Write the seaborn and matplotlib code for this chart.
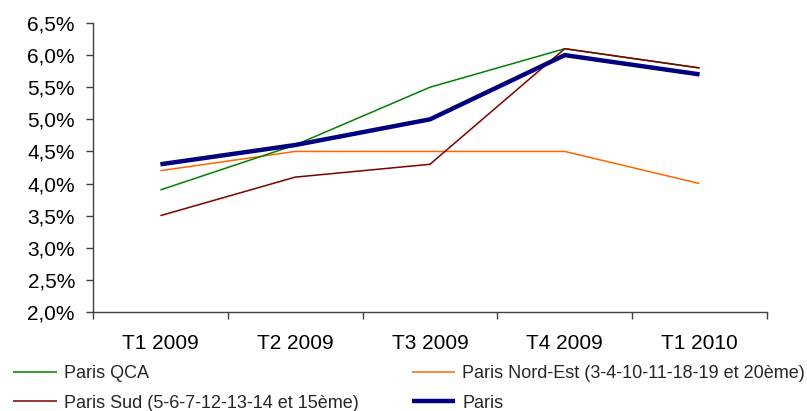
import pandas as pd
import seaborn as sns
import matplotlib.pyplot as plt
from matplotlib.ticker import FuncFormatter, FixedLocator

quarters = ['T1 2009', 'T2 2009', 'T3 2009', 'T4 2009', 'T1 2010']
qca = [3.9, 4.6, 5.5, 6.1, 5.8]
nord_est = [4.2, 4.5, 4.5, 4.5, 4.0]
sud = [3.5, 4.1, 4.3, 6.1, 5.8]
paris = [4.3, 4.6, 5.0, 6.0, 5.7]

series = {
    'Paris QCA': qca,
    'Paris Sud (5-6-7-12-13-14 et 15ème)': sud,
    'Paris Nord-Est (3-4-10-11-18-19 et 20ème)': nord_est,
    'Paris': paris,
}
colors = {
    'Paris QCA': '#008000',
    'Paris Sud (5-6-7-12-13-14 et 15ème)': '#800000',
    'Paris Nord-Est (3-4-10-11-18-19 et 20ème)': '#FF6600',
    'Paris': '#000080',
}
widths = {
    'Paris QCA': 1.1,
    'Paris Sud (5-6-7-12-13-14 et 15ème)': 1.1,
    'Paris Nord-Est (3-4-10-11-18-19 et 20ème)': 1.1,
    'Paris': 3.2,
}
# draw order: orange, green, red, navy on top
draw_order = ['Paris Nord-Est (3-4-10-11-18-19 et 20ème)', 'Paris QCA',
              'Paris Sud (5-6-7-12-13-14 et 15ème)', 'Paris']

sns.set_theme(style='white')
plt.rcParams['font.family'] = ['Liberation Sans', 'DejaVu Sans']

fig = plt.figure(figsize=(8.07, 4.11), dpi=100)
ax = fig.add_axes([0.1152, 0.2409, 0.9504 - 0.1152, 0.944 - 0.2409])

handles = {}
for name in draw_order:
    df = pd.DataFrame({'quarter': quarters, 'rate': series[name]})
    sns.lineplot(data=df, x='quarter', y='rate', ax=ax, color=colors[name],
                 linewidth=widths[name], sort=False, label=name,
                 solid_capstyle='butt')
    handles[name] = ax.lines[-1]
ax.get_legend().remove()

ax.set_xlim(-0.5, 4.5)
ax.set_ylim(2.0, 6.5)
ax.set_yticks([2.0 + 0.5 * i for i in range(10)])
ax.yaxis.set_major_formatter(FuncFormatter(lambda v, p: f'{v:.1f}%'.replace('.', ',')))
ax.set_xticks(range(len(quarters)))
ax.set_xticklabels(quarters)
ax.xaxis.set_minor_locator(FixedLocator([i - 0.5 for i in range(len(quarters) + 1)]))
ax.set_xlabel('')
ax.set_ylabel('')

for s in ['top', 'right']:
    ax.spines[s].set_visible(False)
for s in ['left', 'bottom']:
    ax.spines[s].set_color('#404040')
    ax.spines[s].set_linewidth(1.0)

ax.tick_params(axis='y', which='major', left=True, length=5, width=1,
               color='#404040', labelsize=15, pad=8, labelcolor='black')
ax.tick_params(axis='x', which='major', bottom=True, length=0, labelsize=15,
               pad=16, labelcolor='black')
ax.tick_params(axis='x', which='minor', bottom=True, length=5, width=1,
               color='#404040')

legend_names = ['Paris QCA', 'Paris Sud (5-6-7-12-13-14 et 15ème)',
                'Paris Nord-Est (3-4-10-11-18-19 et 20ème)', 'Paris']
fig.legend([handles[n] for n in legend_names], legend_names, ncol=2,
           loc='lower left', bbox_to_anchor=(0.003, -0.028), frameon=False,
           fontsize=13, handlelength=2.4, handletextpad=0.4,
           columnspacing=2.95, labelspacing=0.68, borderaxespad=0.2)

fig.savefig('out.png', dpi=100)
